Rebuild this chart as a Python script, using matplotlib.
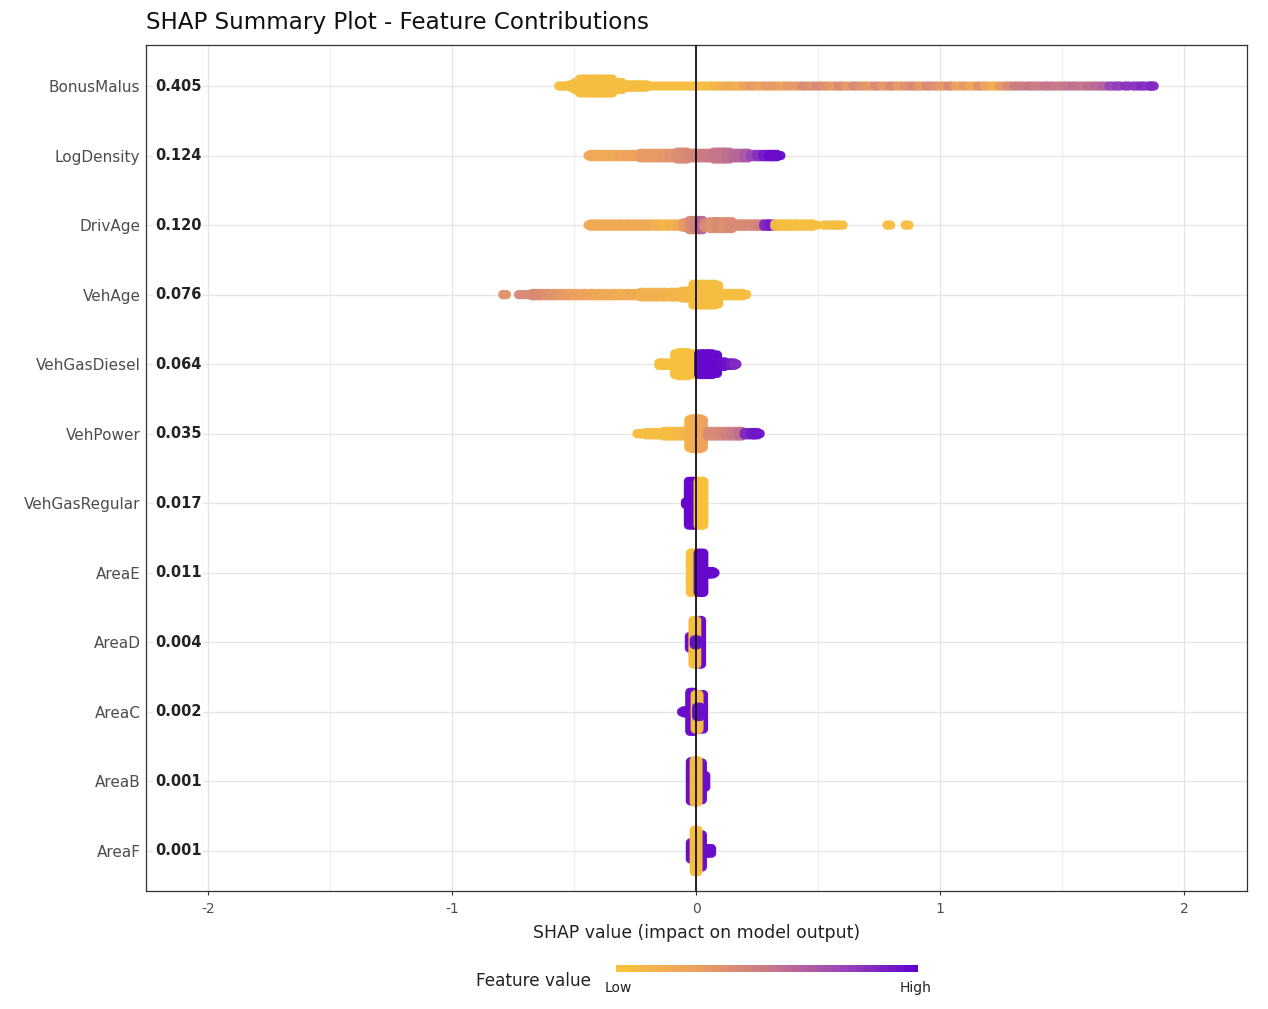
import numpy as np
import matplotlib
matplotlib.use('Agg')
import matplotlib.pyplot as plt
from matplotlib.colors import LinearSegmentedColormap, Normalize
from matplotlib.cm import ScalarMappable
from matplotlib.ticker import MultipleLocator
from matplotlib.path import Path

# feature names (top to bottom) and mean |SHAP|
features = ['BonusMalus', 'LogDensity', 'DrivAge', 'VehAge', 'VehGasDiesel', 'VehPower',
            'VehGasRegular', 'AreaE', 'AreaD', 'AreaC', 'AreaB', 'AreaF']
importance = [0.405, 0.124, 0.120, 0.076, 0.064, 0.035, 0.017, 0.011, 0.004, 0.002, 0.001, 0.001]

# swarm columns: (shap value, number of stacked dots, feature value 0=low 1=high)
bonus_malus = [
    (-0.555, 1, .05), (-0.535, 1, .05), (-0.51, 2, .05), (-0.49, 4, .05), (-0.47, 7, .05),
    (-0.45, 7, .05), (-0.43, 7, .05), (-0.41, 7, .05), (-0.39, 7, .05), (-0.37, 7, .05),
    (-0.35, 7, .05), (-0.33, 4, .05), (-0.31, 4, .05), (-0.29, 2, .05), (-0.27, 2, .05),
    (-0.25, 2, .05), (-0.23, 2, .05), (-0.21, 2, .05), (-0.19, 1, .05), (-0.16, 1, .05),
    (-0.13, 1, .05), (-0.10, 1, .05), (-0.07, 1, .05), (-0.04, 1, .05), (-0.01, 1, .05),
    (0.02, 1, .05), (0.05, 1, .05), (0.08, 1, .10), (0.11, 1, .15), (0.14, 1, .20),
    (0.17, 1, .15), (0.20, 1, .25), (0.23, 1, .30), (0.26, 1, .25), (0.29, 1, .30),
    (0.32, 1, .30), (0.35, 1, .25), (0.38, 1, .30), (0.41, 1, .30), (0.44, 1, .40),
    (0.47, 1, .35), (0.50, 1, .40), (0.53, 1, .35), (0.56, 1, .30), (0.59, 1, .40),
    (0.62, 1, .30), (0.65, 1, .40), (0.68, 1, .35), (0.71, 1, .30), (0.74, 1, .40),
    (0.77, 1, .30), (0.80, 1, .40), (0.83, 1, .30), (0.86, 1, .35), (0.89, 1, .40),
    (0.92, 1, .30), (0.95, 1, .40), (0.98, 1, .35), (1.01, 1, .30), (1.04, 1, .40),
    (1.07, 1, .25), (1.10, 1, .30), (1.13, 1, .20), (1.16, 1, .35), (1.19, 1, .25),
    (1.22, 1, .15), (1.25, 1, .30), (1.28, 1, .40), (1.31, 1, .48), (1.34, 1, .48),
    (1.37, 1, .52), (1.40, 1, .48), (1.43, 1, .52), (1.46, 1, .52), (1.49, 1, .50),
    (1.52, 1, .52), (1.55, 1, .55), (1.58, 1, .52), (1.61, 1, .56), (1.64, 1, .58),
    (1.67, 1, .62), (1.70, 1, .75), (1.73, 1, .78), (1.765, 1, .82), (1.80, 1, .82),
    (1.83, 1, .85), (1.86, 1, .82), (1.87, 1, .85)]

log_density = [
    (-0.435, 1, .20), (-0.425, 2, .20), (-0.40, 2, .20), (-0.37, 2, .20), (-0.34, 2, .20),
    (-0.31, 2, .22), (-0.28, 2, .25), (-0.25, 2, .25), (-0.22, 3, .30), (-0.19, 3, .30),
    (-0.16, 3, .30), (-0.13, 3, .32), (-0.10, 3, .35), (-0.07, 4, .38), (-0.045, 4, .40),
    (-0.02, 3, .42), (0.005, 3, .45), (0.03, 3, .48), (0.055, 3, .50), (0.08, 4, .52),
    (0.105, 4, .52), (0.13, 4, .55), (0.155, 3, .58), (0.18, 3, .60), (0.205, 3, .66),
    (0.23, 2, .75), (0.255, 2, .82), (0.28, 2, .90), (0.305, 2, .95), (0.325, 2, .95),
    (0.34, 1, .95)]

driv_age = [
    (-0.435, 1, .20), (-0.425, 2, .20), (-0.40, 2, .20), (-0.37, 2, .20), (-0.34, 2, .20),
    (-0.31, 2, .20), (-0.28, 2, .20), (-0.25, 2, .20), (-0.22, 2, .20), (-0.19, 2, .20),
    (-0.16, 2, .15), (-0.13, 2, .10), (-0.10, 2, .15), (-0.07, 2, .20), (-0.045, 3, .30),
    (-0.02, 5, .40), (0.0, 5, .45), (0.02, 5, .60), (0.04, 3, .40), (0.065, 4, .35),
    (0.09, 4, .40), (0.115, 4, .35), (0.14, 4, .40), (0.165, 2, .40), (0.19, 2, .40),
    (0.215, 2, .40), (0.24, 2, .42), (0.265, 2, .45), (0.285, 2, .85), (0.305, 2, .90),
    (0.33, 2, .10), (0.355, 2, .05), (0.38, 2, .05), (0.41, 2, .05), (0.44, 2, .05),
    (0.47, 2, .05), (0.49, 1, .05), (0.53, 1, .05), (0.555, 1, .05), (0.575, 1, .05),
    (0.595, 1, .05), (0.79, 1, .05), (0.865, 1, .05)]

veh_age = [
    (-0.785, 1, .35), (-0.72, 1, .40), (-0.69, 1, .40), (-0.665, 2, .40), (-0.64, 2, .38),
    (-0.61, 2, .35), (-0.58, 2, .33), (-0.55, 2, .30), (-0.52, 2, .28), (-0.49, 2, .25),
    (-0.46, 2, .25), (-0.43, 2, .22), (-0.40, 2, .20), (-0.37, 2, .20), (-0.34, 2, .20),
    (-0.31, 2, .18), (-0.28, 2, .18), (-0.25, 2, .18), (-0.22, 3, .15), (-0.19, 3, .15),
    (-0.16, 3, .15), (-0.13, 3, .15), (-0.10, 3, .12), (-0.075, 3, .12), (-0.05, 4, .10),
    (-0.025, 4, .10), (-0.005, 10, .05), (0.02, 10, .05), (0.045, 10, .05), (0.07, 10, .05),
    (0.085, 9, .05), (0.115, 2, .05), (0.14, 2, .05), (0.165, 2, .05), (0.185, 2, .05),
    (0.20, 1, .05)]

veh_gas_diesel = [
    (-0.145, 2, .02), (-0.135, 2, .02), (-0.11, 2, .02), (-0.08, 10, .02), (-0.065, 11, .02),
    (-0.04, 11, .02), (-0.022, 10, .02), (0.018, 10, .97), (0.04, 10, .97), (0.06, 10, .97),
    (0.08, 9, .97), (0.11, 3, .95), (0.135, 2, .93), (0.15, 2, .90), (0.16, 1, .85)]

veh_power = [
    (-0.235, 1, .05), (-0.225, 1, .05), (-0.20, 2, .05), (-0.175, 2, .05), (-0.15, 2, .05),
    (-0.125, 3, .05), (-0.10, 3, .05), (-0.075, 3, .08), (-0.05, 3, .10), (-0.022, 13, .12),
    (-0.01, 14, .15), (0.01, 14, .20), (0.022, 13, .25), (0.055, 3, .40), (0.08, 3, .40),
    (0.105, 3, .42), (0.13, 3, .45), (0.155, 3, .50), (0.18, 3, .55), (0.205, 2, .85),
    (0.23, 2, .90), (0.245, 2, .92), (0.255, 1, .92)]

veh_gas_regular = [
    (-0.024, 20, .97), (-0.014, 20, .97), (-0.036, 2, .97), (0.016, 20, .03), (0.024, 20, .03)]

area_e = [
    (-0.016, 18, .03), (-0.01, 18, .03), (0.016, 18, .97), (0.024, 18, .97),
    (0.05, 2, .97), (0.062, 2, .97), (0.07, 1, .97)]

area_d = [
    (-0.02, 6, .95), (0.015, 20, .95), (-0.005, 20, .05), (0.0, 3, .95)]

area_c = [
    (-0.018, 18, .95), (0.023, 16, .95), (-0.042, 2, .95), (-0.052, 1, .95),
    (0.004, 16, .05), (0.01, 5, .95)]

area_b = [
    (-0.016, 18, .95), (0.018, 17, .95), (0.032, 6, .95), (0.0, 19, .05)]

area_f = [
    (-0.016, 8, .95), (0.018, 15, .95), (0.038, 3, .95), (0.056, 3, .95), (0.0, 19, .05)]

swarms = [bonus_malus, log_density, driv_age, veh_age, veh_gas_diesel, veh_power,
          veh_gas_regular, area_e, area_d, area_c, area_b, area_f]

cmap = LinearSegmentedColormap.from_list(
    'feat', ['#F8C43A', '#EEA25C', '#C97A86', '#9A46B8', '#5E00CF'])

# slightly wide rounded marker so neighbouring columns merge into a band
aspect = 1.4
t = np.linspace(-np.pi / 2, np.pi / 2, 16)
r = 1.0
hw = aspect * r
right = np.column_stack([hw - r + r * np.cos(t), r * np.sin(t)])
left = np.column_stack([-(hw - r) - r * np.cos(t), -r * np.sin(t)])
verts = np.vstack([right, left, right[:1]])
pill = Path(verts, closed=True)

fig = plt.figure(figsize=(12.68, 10.09), dpi=100)
ax = fig.add_axes([0.1151, 0.1170, 0.8683, 0.8384])

n_feat = len(features)
step = 0.033  # vertical spacing of stacked dots, in row units
for i, cols in enumerate(swarms):
    y0 = n_feat - i
    xs, ys, cs = [], [], []
    for x, n, c in cols:
        offs = (np.arange(n) - (n - 1) / 2) * step
        xs += [x] * n
        ys += list(y0 + offs)
        cs += [c] * n
    ax.scatter(xs, ys, c=cs, cmap=cmap, vmin=0, vmax=1, s=86, marker=pill,
               alpha=0.97, linewidths=0, zorder=3)

ax.axvline(0, color='black', lw=1.2, zorder=4)

ax.set_xlim(-2.255, 2.258)
ax.set_ylim(0.424, 12.59)
ax.set_xticks([-2, -1, 0, 1, 2])
ax.set_xticklabels(['-2', '-1', '0', '1', '2'])
ax.xaxis.set_minor_locator(MultipleLocator(0.5))
ax.set_yticks(range(n_feat, 0, -1))
ax.set_yticklabels(features)

ax.grid(True, which='major', color='#E6E6E6', lw=1.0, zorder=0)
ax.grid(True, which='minor', axis='x', color='#EFEFEF', lw=0.8, zorder=0)
ax.set_axisbelow(True)

ax.tick_params(axis='y', length=0, pad=4, labelsize=11, labelcolor='#4D4D4D')
ax.tick_params(axis='x', which='major', length=3, width=0.8, color='#333333',
               pad=5, labelsize=10, labelcolor='#4D4D4D')
ax.tick_params(axis='x', which='minor', length=0)
for s in ax.spines.values():
    s.set_color('#333333')
    s.set_linewidth(0.9)

for i, v in enumerate(importance):
    ax.text(0.008, n_feat - i, f'{v:.3f}', transform=ax.get_yaxis_transform(),
            ha='left', va='center', fontsize=10.5, fontweight='bold', color='#222222',
            bbox=dict(facecolor='white', edgecolor='none', pad=1.5), zorder=5)

ax.set_xlabel('SHAP value (impact on model output)', fontsize=12.4, color='#222222', labelpad=6)

fig.text(0.1151, 1 - 22 / 1009, 'SHAP Summary Plot - Feature Contributions',
         ha='left', va='center', fontsize=16.6, color='#111111')

# colour legend
cax = fig.add_axes([0.4858, 1 - 972 / 1009, 0.2382, 7 / 1009])
cb = fig.colorbar(ScalarMappable(norm=Normalize(0, 1), cmap=cmap), cax=cax,
                  orientation='horizontal')
cb.set_ticks([])
cb.outline.set_visible(False)
fig.text(534 / 1268, 1 - 981 / 1009, 'Feature value', ha='center', va='center',
         fontsize=12.2, color='#222222')
fig.text(618 / 1268, 1 - 988 / 1009, 'Low', ha='center', va='center',
         fontsize=10, color='#222222')
fig.text(916 / 1268, 1 - 988 / 1009, 'High', ha='center', va='center',
         fontsize=10, color='#222222')

fig.savefig('out.png', dpi=100, facecolor='white')
